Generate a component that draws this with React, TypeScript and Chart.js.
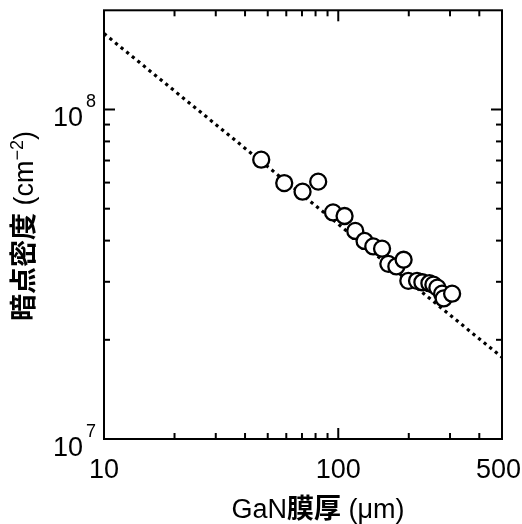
import React, { useEffect, useRef } from "react";
import { Chart, registerables } from "chart.js";

Chart.register(...registerables);

// ---- data ----
const thickness = [46.9, 58.8, 70.4, 82.1, 95.0, 106.4, 118.2, 129.5, 141.1, 153.8, 163.6, 177.0, 190.1, 199.1, 216.9, 228.6, 244.9, 254.7, 264.9, 277.5, 281.8, 306.2];
const density = [7.04e7, 5.98e7, 5.63e7, 6.04e7, 4.87e7, 4.75e7, 4.28e7, 3.99e7, 3.84e7, 3.78e7, 3.40e7, 3.34e7, 3.50e7, 3.02e7, 3.02e7, 2.99e7, 2.97e7, 2.94e7, 2.88e7, 2.76e7, 2.67e7, 2.76e7];
const fitThickness = [10, 500];
const fitDensity = [1.70e8, 1.77e7];

const xMin = 10;
const xMax = 500;
const yMin = 1e7;
const yMax = 2e8;

const xTickValues = [10, 100, 500];
const xTickLabels = ["10", "100", "500"];
const xMajorInner = [100];
const xMinorTicks = [20, 30, 40, 50, 60, 70, 80, 90, 200, 300, 400];
const yTickValues = [1e7, 1e8];
const yTickExponents = ["7", "8"];
const yMajorInner = [1e8];
const yMinorTicks = [2e7, 3e7, 4e7, 5e7, 6e7, 7e7, 8e7, 9e7];

const xTitleParts = [
  { text: "GaN", cjk: false },
  { text: "膜厚", cjk: true },
  { text: " (μm)", cjk: false },
];
const yTitleMain = "暗点密度";
const yTitleUnit = " (cm";
const yTitleSup = "−2";
const yTitleEnd = ")";

const LATIN = "'Liberation Sans', Arial, sans-serif";
const CJK = "'Noto Sans CJK JP', 'Noto Sans CJK SC', sans-serif";

const framePlugin = {
  id: "frameAndLabels",
  afterDraw(chart: any) {
    const { ctx, chartArea: a, scales } = chart;
    const xs = scales.x;
    const ys = scales.y;
    ctx.save();
    ctx.strokeStyle = "#000";
    ctx.fillStyle = "#000";
    ctx.lineWidth = 2;
    ctx.lineCap = "butt";
    ctx.strokeRect(a.left, a.top, a.right - a.left, a.bottom - a.top);

    const seg = (x1: number, y1: number, x2: number, y2: number) => {
      ctx.beginPath();
      ctx.moveTo(x1, y1);
      ctx.lineTo(x2, y2);
      ctx.stroke();
    };
    const MAJ = 11;
    const MIN = 6;
    xMinorTicks.forEach((v) => {
      const p = xs.getPixelForValue(v);
      seg(p, a.bottom, p, a.bottom - MIN);
      seg(p, a.top, p, a.top + MIN);
    });
    xMajorInner.forEach((v) => {
      const p = xs.getPixelForValue(v);
      seg(p, a.bottom, p, a.bottom - MAJ);
      seg(p, a.top, p, a.top + MAJ);
    });
    yMinorTicks.forEach((v) => {
      const p = ys.getPixelForValue(v);
      seg(a.left, p, a.left + MIN, p);
      seg(a.right, p, a.right - MIN, p);
    });
    yMajorInner.forEach((v) => {
      const p = ys.getPixelForValue(v);
      seg(a.left, p, a.left + MAJ, p);
      seg(a.right, p, a.right - MAJ, p);
    });

    // x tick labels
    ctx.font = `27px ${LATIN}`;
    ctx.textBaseline = "alphabetic";
    ctx.textAlign = "center";
    xTickValues.forEach((v, i) => {
      const w = ctx.measureText(xTickLabels[i]).width;
      let p = xs.getPixelForValue(v);
      p = Math.min(p, chart.width - w / 2 - 1);
      ctx.fillText(xTickLabels[i], p, a.bottom + 39);
    });

    // y tick labels 10^n
    yTickValues.forEach((v, i) => {
      const p = ys.getPixelForValue(v);
      ctx.font = `27px ${LATIN}`;
      ctx.textAlign = "right";
      ctx.fillText("10", 83, p + 17);
      ctx.font = `18px ${LATIN}`;
      ctx.textAlign = "left";
      ctx.fillText(yTickExponents[i], 86, p - 2);
    });

    // x title
    const titleSize = 27;
    let total = 0;
    const widths = xTitleParts.map((part) => {
      ctx.font = part.cjk ? `bold ${titleSize}px ${CJK}` : `${titleSize}px ${LATIN}`;
      const w = ctx.measureText(part.text).width;
      total += w;
      return w;
    });
    let cx = 318 - total / 2;
    ctx.textAlign = "left";
    xTitleParts.forEach((part, i) => {
      ctx.font = part.cjk ? `bold ${titleSize}px ${CJK}` : `${titleSize}px ${LATIN}`;
      ctx.fillText(part.text, cx, 518);
      cx += widths[i];
    });

    // y title (rotated)
    ctx.font = `bold ${titleSize}px ${CJK}`;
    const w1 = ctx.measureText(yTitleMain).width;
    ctx.font = `${titleSize}px ${LATIN}`;
    const w2 = ctx.measureText(yTitleUnit).width;
    const w4 = ctx.measureText(yTitleEnd).width;
    ctx.font = `18px ${LATIN}`;
    const w3 = ctx.measureText(yTitleSup).width;
    const tot = w1 + w2 + w3 + w4;
    ctx.translate(33, 226);
    ctx.rotate(-Math.PI / 2);
    let sx = -tot / 2;
    ctx.font = `bold ${titleSize}px ${CJK}`;
    ctx.fillText(yTitleMain, sx, 0);
    sx += w1;
    ctx.font = `${titleSize}px ${LATIN}`;
    ctx.fillText(yTitleUnit, sx, 0);
    sx += w2;
    ctx.font = `18px ${LATIN}`;
    ctx.fillText(yTitleSup, sx, -10);
    sx += w3;
    ctx.font = `${titleSize}px ${LATIN}`;
    ctx.fillText(yTitleEnd, sx, 0);
    ctx.restore();
  },
};

export default function App() {
  const ref = useRef<HTMLCanvasElement | null>(null);
  useEffect(() => {
    if (!ref.current) return;
    const chart = new Chart(ref.current, {
      type: "scatter",
      data: {
        datasets: [
          {
            label: "data",
            data: thickness.map((t, i) => ({ x: t, y: density[i] })),
            pointRadius: 8,
            pointHoverRadius: 8,
            pointBorderWidth: 2.3,
            pointBackgroundColor: "#ffffff",
            pointBorderColor: "#000000",
            showLine: false,
          },
          {
            label: "fit",
            data: fitThickness.map((t, i) => ({ x: t, y: fitDensity[i] })),
            showLine: true,
            borderColor: "#000000",
            borderWidth: 3.2,
            borderDash: [3.2, 4],
            pointRadius: 0,
            fill: false,
          },
        ],
      },
      options: {
        animation: false,
        responsive: false,
        maintainAspectRatio: false,
        devicePixelRatio: 1,
        layout: { padding: { top: 9, right: 20, left: 0, bottom: 0 } },
        plugins: {
          legend: { display: false },
          tooltip: { enabled: false },
        },
        scales: {
          x: {
            type: "logarithmic",
            min: xMin,
            max: xMax,
            ticks: { display: false },
            grid: { display: false },
            border: { display: false },
            afterFit: (s: any) => {
              s.height = 85;
            },
          },
          y: {
            type: "logarithmic",
            min: yMin,
            max: yMax,
            ticks: { display: false },
            grid: { display: false },
            border: { display: false },
            afterFit: (s: any) => {
              s.width = 104;
            },
          },
        },
      } as any,
      plugins: [framePlugin],
    });
    return () => chart.destroy();
  }, []);
  return (
    <div style={{ position: "fixed", left: 0, top: 0, width: 522, height: 524, background: "#fff" }}>
      <canvas ref={ref} width={522} height={524} style={{ display: "block" }} />
    </div>
  );
}
